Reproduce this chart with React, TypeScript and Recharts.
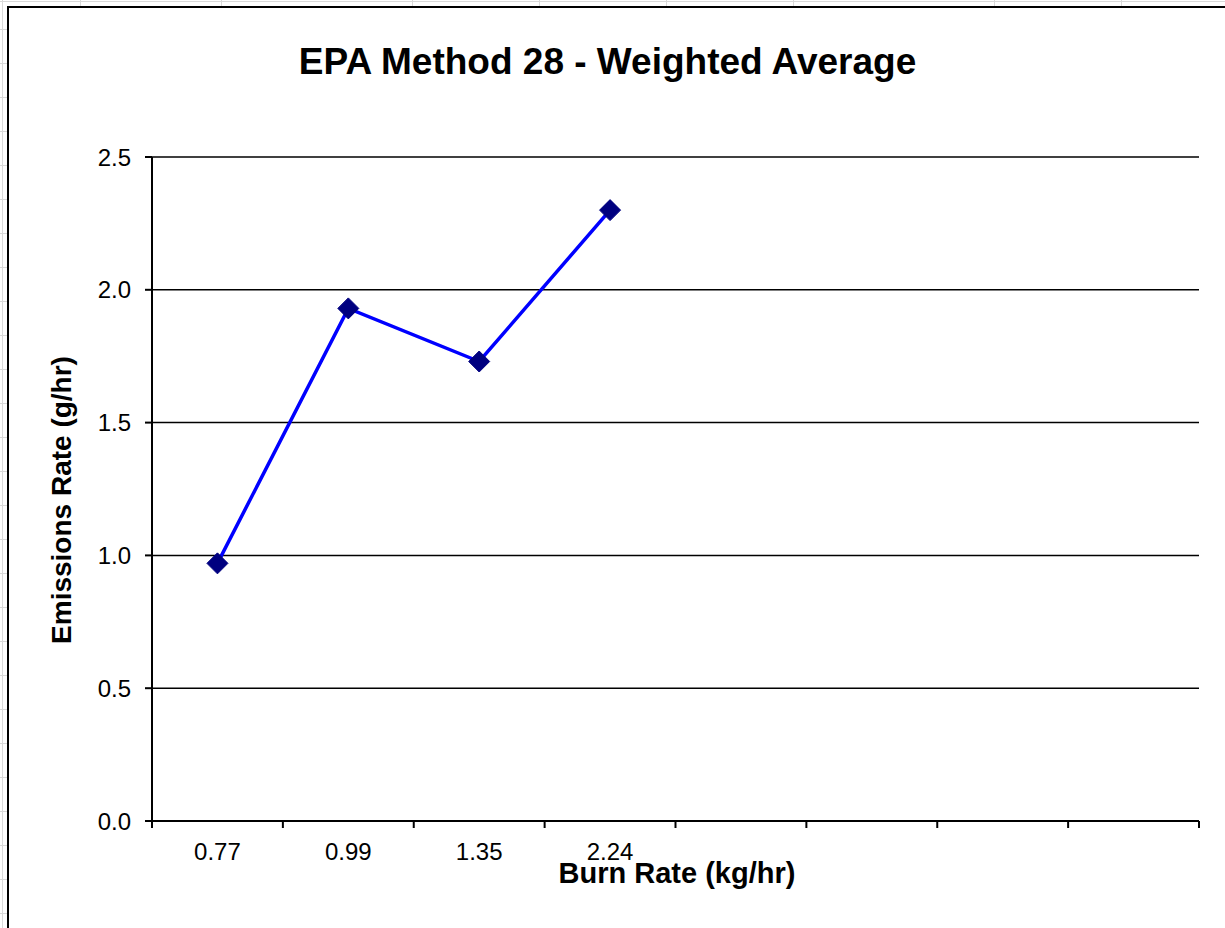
import React from 'react';
import { LineChart, Line, XAxis, YAxis, CartesianGrid } from 'recharts';

const burnRates = ['0.77', '0.99', '1.35', '2.24', '', '', '', ''];
const emissionRates: (number | null)[] = [0.97, 1.93, 1.73, 2.3, null, null, null, null];
const yTicks = [0, 0.5, 1, 1.5, 2, 2.5];

const W = 1225;
const H = 928;
const PLOT_LEFT = 152;
const PLOT_RIGHT = 1199;
const PLOT_TOP = 157;
const PLOT_BOTTOM = 821;
const X_AXIS_H = 40;
const Y_AXIS_W = 100;
const BAND = (PLOT_RIGHT - PLOT_LEFT) / burnRates.length;

const FONT = '"Liberation Sans", Arial, sans-serif';

// spreadsheet cells peeking out behind the chart object
const sheetCols = [80, 221, 412, 539, 666, 793, 994, 1121];
const sheetRows = Array.from({ length: 27 }, (_, i) => 29 + i * 34);

const data = burnRates.map((name, i) => ({ name, emissions: emissionRates[i] }));

function Diamond({ cx, cy, value }: { cx?: number; cy?: number; value?: number | null }) {
  if (cx == null || cy == null || value == null) return null;
  const r = 10.5;
  return (
    <polygon
      points={`${cx},${cy - r} ${cx + r},${cy} ${cx},${cy + r} ${cx - r},${cy}`}
      fill="#000080"
      stroke="#000080"
      strokeWidth={1}
    />
  );
}

function XTick({ x, y, payload, index }: { x?: number; y?: number; payload?: { value: string }; index?: number }) {
  if (x == null || y == null) return null;
  // tick marks sit between categories, like Excel does
  const top = y - 22;
  const left = x - BAND / 2;
  const last = index === burnRates.length - 1;
  return (
    <g>
      <line x1={left} x2={left} y1={top} y2={top + 7} stroke="#000" strokeWidth={2} />
      {last && <line x1={x + BAND / 2} x2={x + BAND / 2} y1={top} y2={top + 7} stroke="#000" strokeWidth={2} />}
      <text x={x} y={y} dy="0.71em" textAnchor="middle" fontSize={24} fontFamily={FONT} fill="#000">
        {burnRates[index ?? 0] ?? payload?.value}
      </text>
    </g>
  );
}

export default function App() {
  return (
    <div style={{ position: 'absolute', left: 0, top: 0, width: W, height: H, overflow: 'hidden', background: '#fff' }}>
      {sheetCols.map(x => (
        <div key={x} style={{ position: 'absolute', left: x, top: 0, width: 1, height: 6, background: '#d9d9d9' }} />
      ))}
      {sheetRows.map(y => (
        <div key={y} style={{ position: 'absolute', left: 0, top: y, width: 7, height: 1, background: '#d9d9d9' }} />
      ))}
      <div style={{ position: 'absolute', left: 2, top: 0, width: 1, height: H, background: '#d9d9d9' }} />
      <div style={{ position: 'absolute', left: 0, top: 1, width: W, height: 1, background: '#d9d9d9' }} />
      <div
        style={{
          position: 'absolute',
          left: 7,
          top: 6,
          width: W + 50,
          height: H + 50,
          border: '2px solid #000',
          background: '#fff'
        }}
      />

      <div style={{ position: 'absolute', left: 0, top: 0 }}>
        <LineChart
          width={W}
          height={H}
          data={data}
          margin={{
            top: PLOT_TOP,
            right: W - PLOT_RIGHT,
            bottom: H - PLOT_BOTTOM - X_AXIS_H,
            left: PLOT_LEFT - Y_AXIS_W
          }}
        >
          <CartesianGrid vertical={false} stroke="#000" strokeWidth={1.5} />
          <XAxis
            dataKey="name"
            padding={{ left: BAND / 2, right: BAND / 2 }}
            height={X_AXIS_H}
            interval={0}
            tick={<XTick />}
            tickSize={7}
            tickMargin={15}
            tickLine={{ stroke: 'none' }}
            axisLine={{ stroke: '#000', strokeWidth: 2 }}
          />
          <YAxis
            width={Y_AXIS_W}
            domain={[0, 2.5]}
            ticks={yTicks}
            tickFormatter={v => Number(v).toFixed(1)}
            tick={{ fill: '#000', fontSize: 24, fontFamily: FONT }}
            tickSize={7}
            tickMargin={14}
            tickLine={{ stroke: '#000', strokeWidth: 2 }}
            axisLine={{ stroke: '#000', strokeWidth: 2 }}
          />
          <Line
            dataKey="emissions"
            stroke="#0000ff"
            strokeWidth={3.5}
            dot={<Diamond />}
            activeDot={false}
            isAnimationActive={false}
          />
        </LineChart>
      </div>

      <div
        style={{
          position: 'absolute',
          left: 0,
          width: W,
          top: 39,
          textAlign: 'center',
          fontFamily: FONT,
          fontWeight: 'bold',
          fontSize: 37,
          lineHeight: '46px',
          color: '#000'
        }}
      >
        <span style={{ position: 'relative', left: -5 }}>EPA Method 28 - Weighted Average</span>
      </div>
      <div
        style={{
          position: 'absolute',
          left: 677 - 200,
          width: 400,
          top: 859,
          textAlign: 'center',
          fontFamily: FONT,
          fontWeight: 'bold',
          fontSize: 29,
          lineHeight: '29px',
          color: '#000'
        }}
      >
        Burn Rate (kg/hr)
      </div>
      <div
        style={{
          position: 'absolute',
          left: 62 - 200,
          width: 400,
          top: 500 - 18,
          textAlign: 'center',
          transform: 'rotate(-90deg)',
          fontFamily: FONT,
          fontWeight: 'bold',
          fontSize: 28,
          lineHeight: '36px',
          color: '#000'
        }}
      >
        Emissions Rate (g/hr)
      </div>
    </div>
  );
}
